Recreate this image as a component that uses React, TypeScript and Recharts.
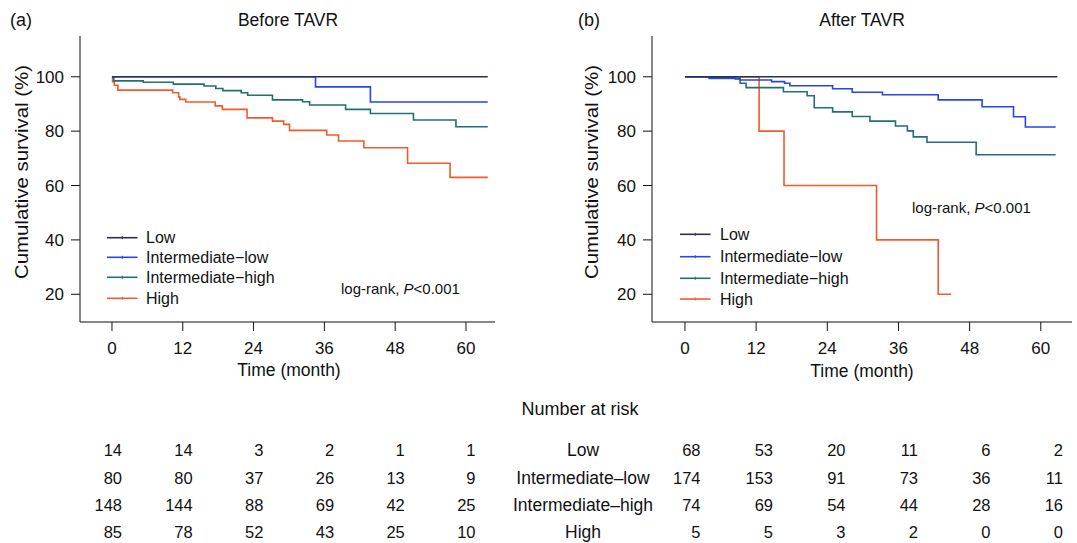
import React from 'react';
import { LineChart, Line, XAxis, YAxis } from 'recharts';

// ---------- data ----------
const groupNames = ['Low', 'Intermediate\u2212low', 'Intermediate\u2212high', 'High'];
const tableNames = ['Low', 'Intermediate\u2013low', 'Intermediate\u2013high', 'High'];
const groupColors = ['#2d2d55', '#2546ee', '#23706e', '#f25a2e'];
const timeTicks = [0, 12, 24, 36, 48, 60];
const survivalTicks = [20, 40, 60, 80, 100];
const panelTitles = ['Before TAVR', 'After TAVR'];
const panelTags = ['(a)', '(b)'];

// Before TAVR (time in months, survival in %)
const beforeLowT = [0, 63.7];
const beforeLowS = [100, 100];
const beforeIntLowT = [0, 34.5, 43.8, 63.7];
const beforeIntLowS = [100, 96.3, 90.7, 90.7];
const beforeIntHighT = [0, 0.3, 5.3, 10.4, 15.6, 17.6, 18.8, 21.9, 23.0, 27.2, 32.3, 33.5, 39.6, 43.8, 51.1, 58.3, 63.7];
const beforeIntHighS = [100, 98.5, 98.0, 97.3, 96.6, 95.7, 94.9, 94.1, 93.2, 91.5, 90.8, 89.6, 88.0, 86.5, 84.1, 81.6, 81.6];
const beforeHighT = [0, 0.1, 0.4, 1.0, 10.3, 11.3, 11.5, 12.5, 17.5, 18.7, 22.9, 27.2, 29.1, 30.1, 36.4, 38.4, 42.7, 50.1, 57.3, 63.7];
const beforeHighS = [100, 98.2, 96.9, 95.1, 94.1, 92.6, 91.7, 90.7, 89.3, 88.0, 84.9, 83.7, 82.5, 80.3, 78.6, 76.4, 73.9, 68.2, 63.0, 63.0];

// After TAVR
const afterLowT = [0, 62.8];
const afterLowS = [100, 100];
const afterIntLowT = [0, 4.1, 8.5, 9.3, 14.6, 16.8, 17.7, 24.9, 28.2, 33.3, 42.7, 50.1, 55.4, 57.4, 62.5];
const afterIntLowS = [100, 99.6, 99.2, 98.8, 98.2, 97.6, 96.7, 95.6, 94.3, 93.4, 91.5, 89.0, 85.3, 81.5, 81.5];
const afterIntHighT = [0, 4.1, 9.3, 10.3, 16.6, 20.6, 21.8, 24.9, 28.2, 31.2, 35.5, 37.5, 38.5, 40.8, 49.1, 62.5];
const afterIntHighS = [100, 99.4, 97.6, 96.0, 94.5, 93.0, 88.6, 87.1, 85.4, 83.7, 81.9, 80.1, 77.9, 75.9, 71.3, 71.3];
const afterHighT = [0, 12.5, 16.7, 32.3, 42.7, 44.9];
const afterHighS = [100, 80, 60, 40, 20, 20];

// Number at risk
const beforeRiskLow = [14, 14, 3, 2, 1, 1];
const beforeRiskIntLow = [80, 80, 37, 26, 13, 9];
const beforeRiskIntHigh = [148, 144, 88, 69, 42, 25];
const beforeRiskHigh = [85, 78, 52, 43, 25, 10];
const afterRiskLow = [68, 53, 20, 11, 6, 2];
const afterRiskIntLow = [174, 153, 91, 73, 36, 11];
const afterRiskIntHigh = [74, 69, 54, 44, 28, 16];
const afterRiskHigh = [5, 5, 3, 2, 0, 0];

// ---------- helpers ----------
const pts = (t: number[], s: number[]) => t.map((x, i) => ({ t: x, s: s[i] }));
const beforeSeries = [
  pts(beforeLowT, beforeLowS),
  pts(beforeIntLowT, beforeIntLowS),
  pts(beforeIntHighT, beforeIntHighS),
  pts(beforeHighT, beforeHighS),
];
const afterSeries = [
  pts(afterLowT, afterLowS),
  pts(afterIntLowT, afterIntLowS),
  pts(afterIntHighT, afterIntHighS),
  pts(afterHighT, afterHighS),
];
const beforeRisk = [beforeRiskLow, beforeRiskIntLow, beforeRiskIntHigh, beforeRiskHigh];
const afterRisk = [afterRiskLow, afterRiskIntLow, afterRiskIntHigh, afterRiskHigh];

const FONT = '"Liberation Sans", Arial, sans-serif';
const drawOrder = [3, 2, 1, 0];

function Panel({ left, width, rightMargin, xDomain, series }: any) {
  return (
    <div style={{ position: 'absolute', left, top: 0 }}>
      <LineChart width={width} height={360} margin={{ top: 36, right: rightMargin, bottom: 0, left: 0 }}>
        <XAxis
          dataKey="t"
          type="number"
          domain={xDomain}
          ticks={timeTicks}
          allowDataOverflow
          interval={0}
          height={38}
          tickSize={9}
          tickMargin={11}
          axisLine={{ stroke: '#111', strokeWidth: 1 }}
          tickLine={{ stroke: '#111', strokeWidth: 1 }}
          tick={{ fill: '#111', fontSize: 17, fontFamily: FONT }}
        />
        <YAxis
          type="number"
          domain={[9.8, 115]}
          ticks={survivalTicks}
          allowDataOverflow
          interval={0}
          width={80}
          tickSize={9}
          tickMargin={7}
          axisLine={{ stroke: '#111', strokeWidth: 1 }}
          tickLine={{ stroke: '#111', strokeWidth: 1 }}
          tick={{ fill: '#111', fontSize: 17, fontFamily: FONT }}
        />
        {drawOrder.map((i) => (
          <Line
            key={i}
            data={series[i]}
            dataKey="s"
            type="stepAfter"
            stroke={groupColors[i]}
            strokeWidth={1.6}
            dot={false}
            activeDot={false}
            isAnimationActive={false}
          />
        ))}
      </LineChart>
    </div>
  );
}

function Legend({ x1, x2, tx, ys }: any) {
  return (
    <g>
      {groupNames.map((name, i) => (
        <g key={name}>
          <line x1={x1} x2={x2} y1={ys[i]} y2={ys[i]} stroke={groupColors[i]} strokeWidth={1.6} />
          <line x1={(x1 + x2) / 2} x2={(x1 + x2) / 2} y1={ys[i] - 1.5} y2={ys[i] + 1.5} stroke={groupColors[i]} strokeWidth={1} />
          <text x={tx} y={ys[i]} fontSize={16} dominantBaseline="central" fill="#111">{name}</text>
        </g>
      ))}
    </g>
  );
}

function LogRank({ x, y }: any) {
  return (
    <text x={x} y={y} fontSize={15} dominantBaseline="central" fill="#111">
      log-rank, <tspan fontStyle="italic">P</tspan>&lt;0.001
    </text>
  );
}

const rowYs = [450, 478.3, 505, 531.7];

function RiskNumbers({ x0, dx, rows }: any) {
  return (
    <g>
      {rows.map((row: number[], r: number) =>
        row.map((v, c) => (
          <text key={r + '-' + c} x={x0 + dx * c} y={rowYs[r]} fontSize={16.5} textAnchor="end" dominantBaseline="central" fill="#111">
            {v}
          </text>
        ))
      )}
    </g>
  );
}

export default function App() {
  return (
    <div style={{ position: 'absolute', left: 0, top: 0, width: 1077, height: 543, background: '#fff', fontFamily: FONT }}>
      <Panel left={0} width={540} rightMargin={45} xDomain={[-5.42, 64.92]} series={beforeSeries} />
      <Panel left={572} width={505} rightMargin={5} xDomain={[-5.56, 65.26]} series={afterSeries} />
      <svg width={1077} height={543} style={{ position: 'absolute', left: 0, top: 0, pointerEvents: 'none', fontFamily: FONT }}>
        <text x={10} y={20} fontSize={18} dominantBaseline="central" fill="#111">{panelTags[0]}</text>
        <text x={578} y={20} fontSize={18} dominantBaseline="central" fill="#111">{panelTags[1]}</text>
        <text x={288} y={20} fontSize={17.5} textAnchor="middle" dominantBaseline="central" fill="#111">{panelTitles[0]}</text>
        <text x={862} y={20} fontSize={17.5} textAnchor="middle" dominantBaseline="central" fill="#111">{panelTitles[1]}</text>

        <text x={289} y={370} fontSize={17.5} textAnchor="middle" dominantBaseline="central" fill="#111">Time (month)</text>
        <text x={862} y={371} fontSize={17.5} textAnchor="middle" dominantBaseline="central" fill="#111">Time (month)</text>

        <text transform="translate(22,172) rotate(-90)" fontSize={18} textAnchor="middle" dominantBaseline="central" fill="#111" textLength={214} lengthAdjust="spacingAndGlyphs">Cumulative survival (%)</text>
        <text transform="translate(592,172) rotate(-90)" fontSize={18} textAnchor="middle" dominantBaseline="central" fill="#111" textLength={214} lengthAdjust="spacingAndGlyphs">Cumulative survival (%)</text>

        <Legend x1={107} x2={137.5} tx={146} ys={[237.7, 257.3, 277.3, 298.3]} />
        <Legend x1={680} x2={710.5} tx={720} ys={[234.3, 256.7, 278.3, 299]} />
        <LogRank x={341} y={288} />
        <LogRank x={912} y={207} />

        <text x={580} y={408.5} fontSize={18} textAnchor="middle" dominantBaseline="central" fill="#111">Number at risk</text>
        {tableNames.map((n, i) => (
          <text key={n} x={583} y={rowYs[i]} fontSize={17.5} textAnchor="middle" dominantBaseline="central" fill="#111">{n}</text>
        ))}
        <RiskNumbers x0={122} dx={70.7} rows={beforeRisk} />
        <RiskNumbers x0={700.5} dx={72.5} rows={afterRisk} />
      </svg>
    </div>
  );
}
